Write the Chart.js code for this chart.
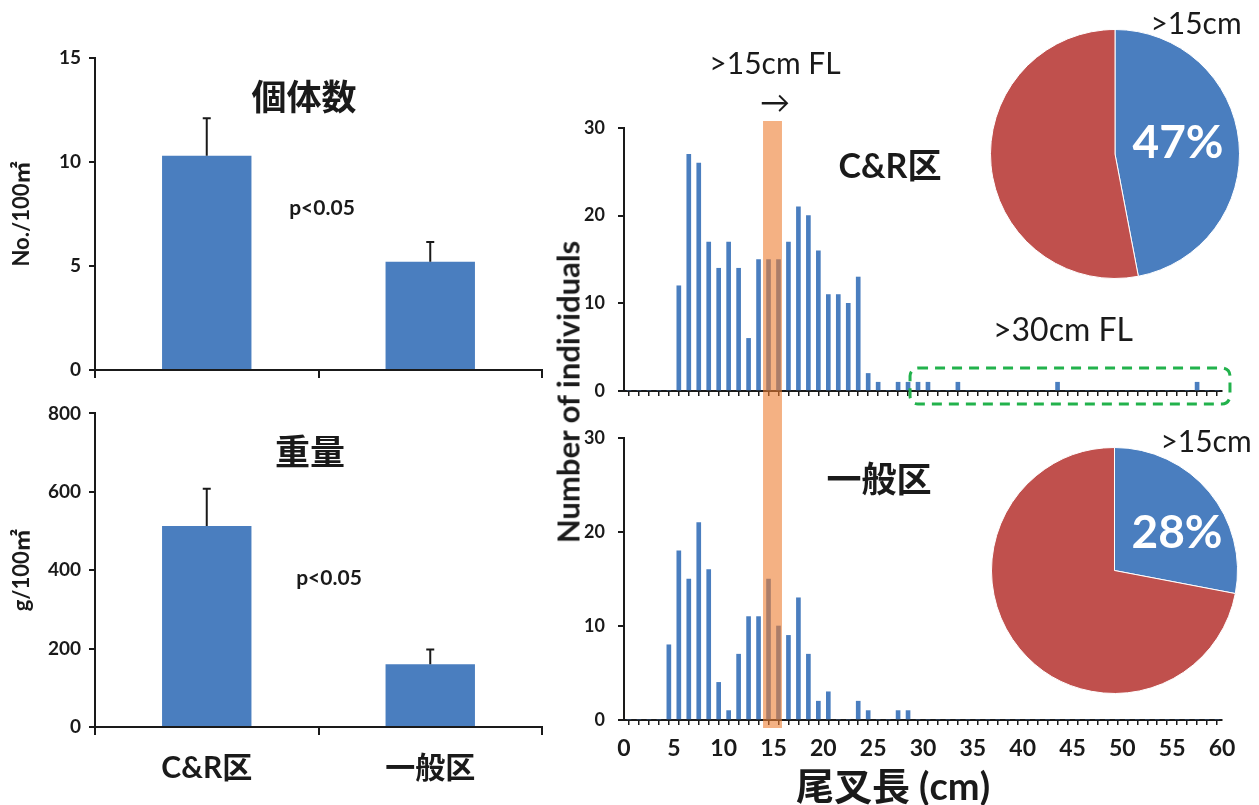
<!DOCTYPE html>
<html>
<head>
<meta charset="utf-8">
<script src="https://cdn.jsdelivr.net/npm/chart.js@4"></script>
<style>
  body { margin: 0; background: #fff; width: 1259px; height: 805px; overflow: hidden; position: relative; }
  canvas { position: absolute; }
  .t { position: absolute; transform: translate(-50%, -50%); white-space: nowrap; color: #1a1a1a;
       font-family: Lato, "Noto Sans CJK JP", sans-serif; line-height: 1; }
  .b { font-weight: bold; }
</style>
</head>
<body>
<canvas id="cnt" width="560" height="400" style="left:0;top:0"></canvas>
<canvas id="wt" width="560" height="411" style="left:0;top:394px"></canvas>
<canvas id="histCR" width="690" height="415" style="left:560px;top:0"></canvas>
<canvas id="histGen" width="690" height="395" style="left:560px;top:410px"></canvas>
<canvas id="pieCR" width="250" height="250" style="left:990px;top:29px"></canvas>
<canvas id="pieGen" width="247" height="247" style="left:991px;top:447px"></canvas>

<div class="t b" style="left:304px;top:96px;font-size:35px">個体数</div>
<div class="t b" style="left:322px;top:206px;font-size:21px">p&lt;0.05</div>
<div class="t b" style="left:310px;top:451px;font-size:35px">重量</div>
<div class="t b" style="left:329px;top:576px;font-size:21px">p&lt;0.05</div>
<div class="t" style="left:775px;top:62px;font-size:30px">&gt;15cm FL</div>
<div class="t" style="left:775px;top:101px;font-size:30px">→</div>
<div class="t b" style="left:890px;top:165px;font-size:34px">C&amp;R区</div>
<div class="t b" style="left:879px;top:478px;font-size:35px">一般区</div>
<div class="t" style="left:1063px;top:329px;font-size:32px">&gt;30cm FL</div>
<div class="t" style="left:1196px;top:22px;font-size:30px">&gt;15cm</div>
<div class="t" style="left:1206px;top:440px;font-size:30px">&gt;15cm</div>
<div class="t b" style="left:1178px;top:141px;font-size:46px;color:#fff">47%</div>
<div class="t b" style="left:1177px;top:531px;font-size:46px;color:#fff">28%</div>
<div class="t b" style="left:568px;top:392px;font-size:31px;transform:translate(-50%,-50%) rotate(-90deg)">Number of individuals</div>
<div class="t b" style="left:893px;top:785px;font-size:38px">尾叉長 (cm)</div>

<script>
// left panels
const groups = ['C&R区', '一般区'];
const density = [10.3, 5.2];        // No./100m2
const densityErr = [1.8, 0.95];
const biomass = [513, 160];         // g/100m2
const biomassErr = [95, 38];

// fork length histograms, 1 cm bins starting at 0 cm
const binStart = Array.from({length: 60}, (_, i) => i);
const crCounts = [
  0, 0, 0, 0, 0, 12, 27, 26, 17, 14,
  17, 14, 6, 15, 15, 15, 17, 21, 20, 16,
  11, 11, 10, 13, 2, 1, 0, 1, 1, 1,
  1, 0, 0, 1, 0, 0, 0, 0, 0, 0,
  0, 0, 0, 1, 0, 0, 0, 0, 0, 0,
  0, 0, 0, 0, 0, 0, 0, 1, 0, 0
];
const genCounts = [
  0, 0, 0, 0, 8, 18, 15, 21, 16, 4,
  1, 7, 11, 11, 15, 10, 9, 13, 7, 2,
  3, 0, 0, 2, 1, 0, 0, 1, 1, 0,
  0, 0, 0, 0, 0, 0, 0, 0, 0, 0,
  0, 0, 0, 0, 0, 0, 0, 0, 0, 0,
  0, 0, 0, 0, 0, 0, 0, 0, 0, 0
];
const lengthTicks = [0, 5, 10, 15, 20, 25, 30, 35, 40, 45, 50, 55, 60];

// share of fish >15cm
const crShare = [47, 53];
const genShare = [28, 72];

const BLUE = '#4A7EBF';
const RED = '#C0504D';
const INK = '#1a1a1a';
const LAT = 'Lato, "Noto Sans CJK JP", sans-serif';
Chart.defaults.font.family = LAT;
Chart.defaults.color = INK;

const errorBars = {
  id: 'errorBars',
  afterDatasetsDraw(chart, args, opts) {
    const ctx = chart.ctx;
    const y = chart.scales.y;
    const meta = chart.getDatasetMeta(0);
    const vals = chart.data.datasets[0].data;
    ctx.save();
    ctx.strokeStyle = INK;
    ctx.lineWidth = 2;
    meta.data.forEach((bar, i) => {
      const top = y.getPixelForValue(vals[i] + opts.err[i]);
      ctx.beginPath();
      ctx.moveTo(bar.x, bar.y);
      ctx.lineTo(bar.x, top);
      ctx.moveTo(bar.x - 4, top);
      ctx.lineTo(bar.x + 4, top);
      ctx.stroke();
    });
    ctx.restore();
  }
};

function barPanel(id, values, err, max, step, title, showLabels, padTop, xHeight) {
  return new Chart(document.getElementById(id), {
    type: 'bar',
    data: { labels: groups, datasets: [{ data: values, backgroundColor: BLUE, barPercentage: 0.4, categoryPercentage: 1 }] },
    plugins: [errorBars],
    options: {
      responsive: false,
      animation: false,
      layout: { padding: { top: padTop, right: 18, left: 0, bottom: 0 } },
      plugins: { legend: { display: false }, tooltip: { enabled: false }, errorBars: { err: err } },
      scales: {
        x: {
          grid: { offset: true, drawOnChartArea: false, tickLength: 8, color: INK, lineWidth: 2 },
          border: { color: INK, width: 2 },
          ticks: { display: showLabels, padding: 15, font: { size: 30, weight: 'bold' } },
          afterFit: (s) => { s.height = xHeight; }
        },
        y: {
          min: 0, max: max,
          ticks: { stepSize: step, padding: 8, font: { size: 19, weight: 'bold' } },
          grid: { drawOnChartArea: false, tickLength: 6, color: INK, lineWidth: 2 },
          border: { color: INK, width: 2 },
          title: { display: true, text: title, font: { size: 22, weight: 'bold' }, padding: { top: 9, bottom: 0 } },
          afterFit: (s) => { s.width = 95; }
        }
      }
    }
  });
}

barPanel('cnt', density, densityErr, 15, 5, 'No./100㎡', false, 58, 30);
barPanel('wt', biomass, biomassErr, 800, 200, 'g/100㎡', true, 19, 78);

// orange band marking 15 cm, dashed box marking >30 cm
const overlays = {
  id: 'overlays',
  afterDatasetsDraw(chart, args, opts) {
    const ctx = chart.ctx;
    const x = chart.scales.x;
    const y = chart.scales.y;
    ctx.save();
    ctx.fillStyle = 'rgba(237,125,49,0.6)';
    const bx0 = x.getPixelForValue(opts.band[0]);
    const bx1 = x.getPixelForValue(opts.band[1]);
    ctx.fillRect(bx0, opts.bandY[0], bx1 - bx0, opts.bandY[1] - opts.bandY[0]);
    if (opts.box) {
      const x0 = x.getPixelForValue(opts.box[0]);
      const x1 = x.getPixelForValue(opts.box[1]);
      const y0 = y.getPixelForValue(0);
      ctx.strokeStyle = '#22B24C';
      ctx.lineWidth = 3;
      ctx.setLineDash([10, 7]);
      ctx.beginPath();
      ctx.roundRect(x0, y0 - 23, x1 - x0, 36, 8);
      ctx.stroke();
    }
    ctx.restore();
  }
};

function histPanel(id, counts, showLabels, padTop, xHeight, ov) {
  return new Chart(document.getElementById(id), {
    type: 'bar',
    data: { datasets: [{ data: counts.map((c, i) => ({ x: binStart[i] + 0.5, y: c })), backgroundColor: BLUE, barThickness: 4 }] },
    plugins: [overlays],
    options: {
      responsive: false,
      animation: false,
      layout: { padding: { top: padTop, right: 28, left: 0, bottom: 0 } },
      plugins: { legend: { display: false }, tooltip: { enabled: false }, overlays: ov },
      scales: {
        x: {
          type: 'linear', min: 0, max: 60, offset: false,
          afterBuildTicks: (s) => { s.ticks = binStart.concat([60]).map(v => ({ value: v })); },
          ticks: {
            display: showLabels, autoSkip: false, maxRotation: 0, padding: 10,
            font: { size: 23, weight: 'bold' },
            callback: (v) => lengthTicks.includes(v) ? String(v) : ''
          },
          grid: { drawOnChartArea: false, tickLength: 5, color: INK, lineWidth: 1.5 },
          border: { color: INK, width: 2 },
          afterFit: (s) => { s.height = xHeight; }
        },
        y: {
          min: 0, max: 30,
          ticks: { stepSize: 10, padding: 13, font: { size: 18, weight: 'bold' } },
          grid: { drawOnChartArea: false, tickLength: 6, color: INK, lineWidth: 2 },
          border: { color: INK, width: 2 },
          afterFit: (s) => { s.width = 64; }
        }
      }
    }
  });
}

histPanel('histCR', crCounts, false, 128, 24, { band: [13.95, 15.85], bandY: [121, 410], box: [28.7, 60.8] });
histPanel('histGen', genCounts, true, 28, 85, { band: [13.95, 15.85], bandY: [0, 318] });

function piePanel(id, share) {
  return new Chart(document.getElementById(id), {
    type: 'pie',
    data: { labels: ['>15cm', '<=15cm'], datasets: [{ data: share, backgroundColor: [BLUE, RED], borderColor: '#fff', borderWidth: 1 }] },
    options: {
      responsive: false,
      animation: false,
      layout: { padding: 0 },
      plugins: { legend: { display: false }, tooltip: { enabled: false } }
    }
  });
}

piePanel('pieCR', crShare);
piePanel('pieGen', genShare);
</script>
</body>
</html>
